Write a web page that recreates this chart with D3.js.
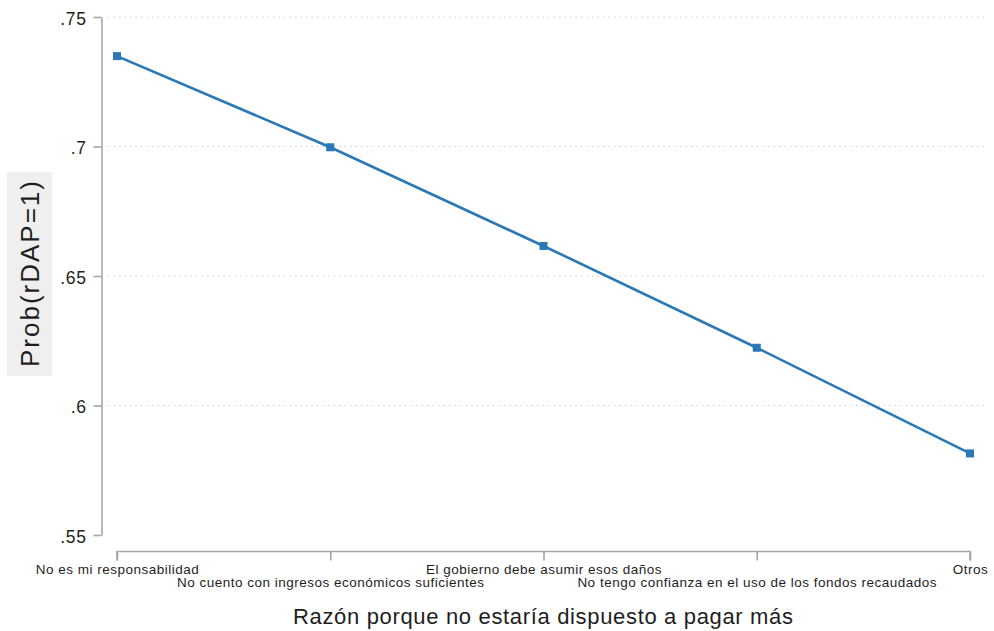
<!DOCTYPE html>
<html>
<head>
<meta charset="utf-8">
<script src="https://cdn.jsdelivr.net/npm/d3@7"></script>
<style>
  html, body { margin: 0; padding: 0; background: #fff; }
  svg { display: block; font-family: Arial, "Liberation Sans", sans-serif; }
</style>
</head>
<body>
<svg id="chart" width="994" height="631"></svg>
<script>
// Predicted probability of rDAP=1 by stated reason
const categories = [
  "No es mi responsabilidad",
  "No cuento con ingresos económicos suficientes",
  "El gobierno debe asumir esos daños",
  "No tengo confianza en el uso de los fondos recaudados",
  "Otros"
];
const probValues = [0.7349, 0.6997, 0.6616, 0.6223, 0.5815];
const yTicks = [0.55, 0.6, 0.65, 0.7, 0.75];
const yTickLabels = [".55", ".6", ".65", ".7", ".75"];
const yTitle = "Prob(rDAP=1)";
const xTitle = "Razón porque no estaría dispuesto a pagar más";

const svg = d3.select("#chart");
const lineColor = "#2a78b6";
const axisColor = "#a6a6a6";
const textColor = "#1e1e1e";

const x = d3.scalePoint().domain(categories).range([117, 970]);
const y = d3.scaleLinear().domain([0.55, 0.75]).range([535, 17]);

// Dotted horizontal gridlines
svg.append("g")
  .selectAll("line")
  .data(yTicks.slice(1))
  .join("line")
  .attr("x1", 108).attr("x2", 985)
  .attr("y1", d => y(d)).attr("y2", d => y(d))
  .attr("stroke", "#cfcfcf")
  .attr("stroke-width", 1)
  .attr("stroke-dasharray", "1.5,4");

// Y axis
const yAxis = d3.axisLeft(y)
  .tickValues(yTicks)
  .tickFormat((d, i) => yTickLabels[i])
  .tickSize(8)
  .tickSizeOuter(0)
  .tickPadding(6);
const yg = svg.append("g").attr("transform", "translate(101.5,0)").call(yAxis);
yg.select(".domain").attr("stroke", axisColor).attr("stroke-width", 1.6);
yg.selectAll(".tick line").attr("stroke", axisColor).attr("stroke-width", 1.6);
yg.selectAll(".tick text")
  .attr("fill", textColor)
  .style("font-size", "17.5px")
  .style("letter-spacing", "0.6px")
  .attr("x", -15)
  .attr("dy", "0.4em");

// X axis
const xAxis = d3.axisBottom(x)
  .tickSize(9)
  .tickSizeOuter(0)
  .tickFormat(d => d);
const xg = svg.append("g").attr("transform", "translate(0,551.5)").call(xAxis);
xg.select(".domain").attr("stroke", axisColor).attr("stroke-width", 1.6)
  .attr("d", `M${x(categories[0])},9V0H${x(categories[categories.length - 1])}V9`);
xg.selectAll(".tick line").attr("stroke", axisColor).attr("stroke-width", 1.6);
xg.selectAll(".tick text")
  .attr("fill", textColor)
  .style("font-size", "13.5px")
  .style("letter-spacing", "0.5px")
  .attr("y", (d, i) => i % 2 === 0 ? 18 : 31)
  .attr("dy", "0.35em");

// Line and square markers
const line = d3.line()
  .x((d, i) => x(categories[i]))
  .y(d => y(d));

svg.append("path")
  .datum(probValues)
  .attr("fill", "none")
  .attr("stroke", lineColor)
  .attr("stroke-width", 2.6)
  .attr("d", line);

const ms = 8;
svg.append("g")
  .selectAll("rect")
  .data(probValues)
  .join("rect")
  .attr("x", (d, i) => x(categories[i]) - ms / 2)
  .attr("y", d => y(d) - ms / 2)
  .attr("width", ms)
  .attr("height", ms)
  .attr("fill", lineColor);

// Y title with shaded box
const yTitleG = svg.append("g").attr("transform", "translate(30,274) rotate(-90)");
yTitleG.append("rect")
  .attr("x", -102).attr("y", -23)
  .attr("width", 204).attr("height", 45)
  .attr("fill", "#efefef");
yTitleG.append("text")
  .attr("text-anchor", "middle")
  .attr("dy", "0.36em")
  .attr("fill", textColor)
  .style("font-size", "26px")
  .attr("textLength", 186)
  .attr("lengthAdjust", "spacing")
  .text(yTitle);

// X title
svg.append("text")
  .attr("x", 543)
  .attr("y", 616)
  .attr("text-anchor", "middle")
  .attr("dy", "0.35em")
  .attr("fill", textColor)
  .style("font-size", "22px")
  .attr("textLength", 500)
  .attr("lengthAdjust", "spacing")
  .text(xTitle);
</script>
</body>
</html>
